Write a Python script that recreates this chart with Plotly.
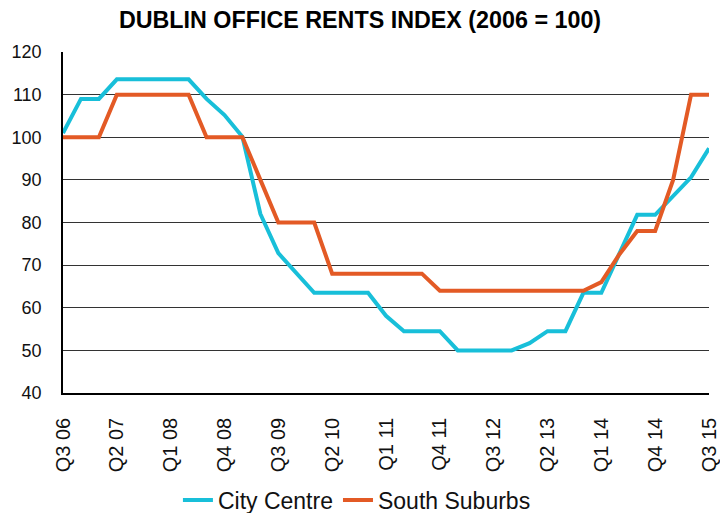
import plotly.graph_objects as go

quarters = []
for y in range(2006, 2016):
    for q in range(1, 5):
        if (y == 2006 and q < 3) or (y == 2015 and q > 3):
            continue
        quarters.append(f"Q{q} {str(y)[2:]}")

city_centre = [101, 109, 109, 113.6, 113.6, 113.6, 113.6, 113.6, 109, 105.2, 100.1,
               82, 72.8, 68, 63.5, 63.5, 63.5, 63.5, 58.1, 54.5, 54.5, 54.5,
               50, 50, 50, 50, 51.7, 54.5, 54.5, 63.5, 63.5,
               72.6, 81.8, 81.8, 86.1, 90.6, 97.4]
south_suburbs = [100, 100, 100, 110, 110, 110, 110, 110, 100, 100, 100,
                 90, 80, 80, 80, 68, 68, 68, 68, 68, 68,
                 64, 64, 64, 64, 64, 64, 64, 64, 64,
                 66, 72.5, 78, 78, 90, 110, 110]

tick_labels = quarters[::3]

fig = go.Figure()
fig.add_trace(go.Scatter(x=quarters, y=city_centre, mode="lines", name="City Centre",
                         line=dict(color="#18BFD9", width=4)))
fig.add_trace(go.Scatter(x=quarters, y=south_suburbs, mode="lines", name="South Suburbs",
                         line=dict(color="#E35A25", width=4)))

fig.update_layout(
    width=720, height=513,
    margin=dict(l=63, r=11, t=52, b=120, autoexpand=False),
    paper_bgcolor="white", plot_bgcolor="white",
    font=dict(family="Liberation Sans, Arial, sans-serif", color="#111"),
    title=dict(text="<b>DUBLIN OFFICE RENTS INDEX (2006 = 100)</b>",
               x=0.5, xanchor="center", xref="container", y=0.962, yanchor="middle",
               font=dict(size=23.3, color="#000")),
    showlegend=True,
    legend=dict(orientation="h", x=0.455, xanchor="center", y=-0.314, yanchor="middle",
                font=dict(size=23, color="#111"), itemwidth=30, tracegroupgap=0),
)
fig.update_xaxes(type="category", range=[0, len(quarters) - 1], automargin=False,
                 tickmode="array", tickvals=tick_labels, ticktext=tick_labels,
                 tickangle=-90, tickfont=dict(size=20, color="#111"),
                 showgrid=False, showline=True, linecolor="#000", linewidth=1.5,
                 ticks="", ticklabelstandoff=15, zeroline=False)
fig.update_yaxes(range=[40, 120], dtick=10, tickfont=dict(size=18, color="#111"),
                 automargin=False,
                 showgrid=True, gridcolor="#333", gridwidth=1,
                 showline=True, linecolor="#000", linewidth=1.5,
                 ticks="", ticklabelstandoff=16, zeroline=False)

fig.write_html("out.html")
